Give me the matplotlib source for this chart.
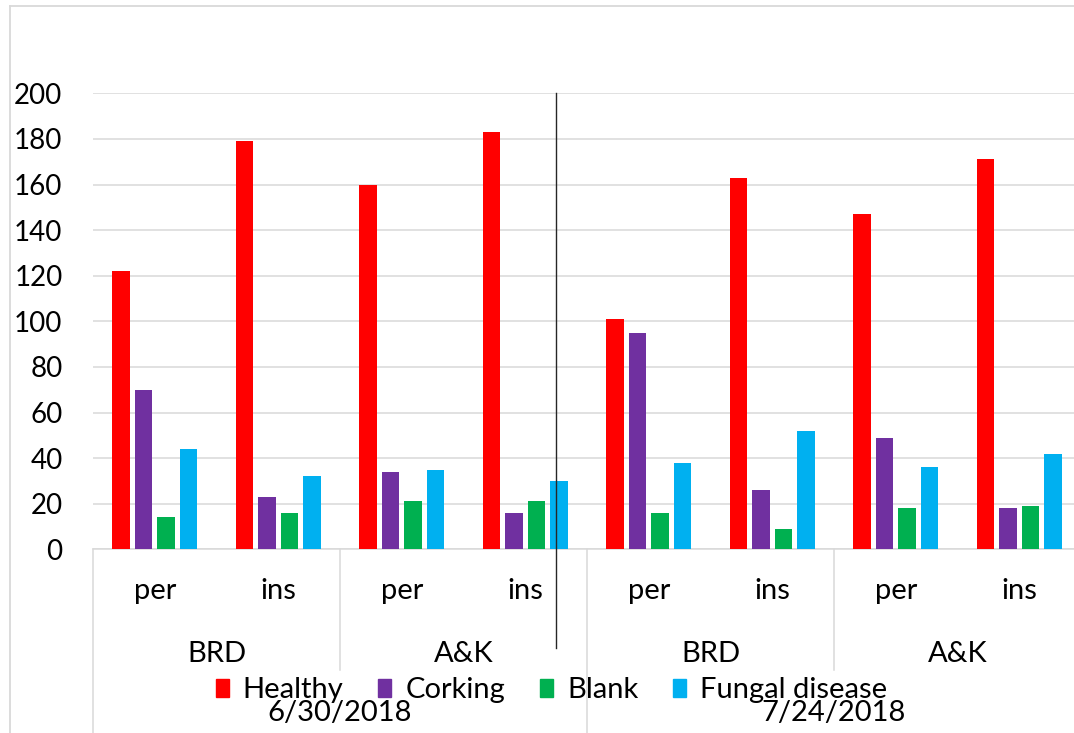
import matplotlib
matplotlib.use("Agg")
import matplotlib.pyplot as plt
import numpy as np
from matplotlib.lines import Line2D
from matplotlib.patches import Patch

plt.rcParams["font.family"] = ["Lato", "DejaVu Sans"]

# data: two sampling dates x two sites x two treatments
dates = ["6/30/2018", "7/24/2018"]
sites = ["BRD", "A&K", "BRD", "A&K"]
treatments = ["per", "ins", "per", "ins", "per", "ins", "per", "ins"]

series = ["Healthy", "Corking", "Blank", "Fungal disease"]
healthy = [122, 179, 160, 183, 101, 163, 147, 171]
corking = [70, 23, 34, 16, 95, 26, 49, 18]
blank = [14, 16, 21, 21, 16, 9, 18, 19]
fungal = [44, 32, 35, 30, 38, 52, 36, 42]
colors = ["#FF0000", "#7030A0", "#00B050", "#00B0F0"]

grid_color = "#D9D9D9"
fs = 20
lab_fs = 21

fig = plt.figure(figsize=(10.74, 7.33), dpi=100)
ax = fig.add_axes([93 / 1074, 0.2506, 988 / 1074, 456 / 733])

x = np.arange(len(treatments)) + 0.5
step, width = 0.182, 0.142
for k, (vals, c) in enumerate(zip([healthy, corking, blank, fungal], colors)):
    ax.bar(x + (k - 1.5) * step, vals, width, color=c, zorder=3)

ax.set_xlim(0, len(treatments))
ax.set_ylim(0, 200)
ax.set_yticks(np.arange(0, 201, 20))
ax.tick_params(axis="y", length=0, pad=22, labelsize=fs)
ax.set_xticks([])
ax.yaxis.grid(True, color=grid_color, lw=1.1, zorder=0)
for s in ["top", "right", "left"]:
    ax.spines[s].set_visible(False)
ax.spines["bottom"].set_color(grid_color)
ax.spines["bottom"].set_linewidth(1.1)

# multi-level category axis
tr = ax.get_xaxis_transform()
for xi, depth in [(0, -0.41), (2, -0.265), (4, -0.41), (6, -0.265)]:
    ax.add_line(Line2D([xi, xi], [0, depth], transform=tr, color=grid_color,
                       lw=1.1, clip_on=False))
for xi, t in zip(x, treatments):
    ax.text(xi, -0.0914, t, transform=tr, ha="center", va="center", fontsize=lab_fs)
for i, s in enumerate(sites):
    ax.text(2 * i + 1, -0.2296, s, transform=tr, ha="center", va="center", fontsize=lab_fs)
for i, d in enumerate(dates):
    ax.text(4 * i + 2, -0.3586, d, transform=tr, ha="center", va="center", fontsize=lab_fs)

# divider line
ax.add_line(Line2D([3.75, 3.75], [1.0, -0.216], transform=tr, color="#262626",
                   lw=1.0, clip_on=False, zorder=5))

# chart border (top and left)
fig.add_artist(Line2D([10 / 1074, 10 / 1074], [0, 727 / 733], color=grid_color, lw=1.3))
fig.add_artist(Line2D([10 / 1074, 1], [727 / 733, 727 / 733], color=grid_color, lw=1.3))

handles = [Patch(color=c, label=s) for c, s in zip(colors, series)]
fig.legend(handles=handles, loc="center", bbox_to_anchor=(0.5135, 0.0587),
           ncol=4, frameon=False, fontsize=lab_fs, handlelength=0.445,
           handleheight=0.58, handletextpad=0.48, columnspacing=1.2,
           borderpad=0, borderaxespad=0)

fig.savefig("out.png", dpi=100)
